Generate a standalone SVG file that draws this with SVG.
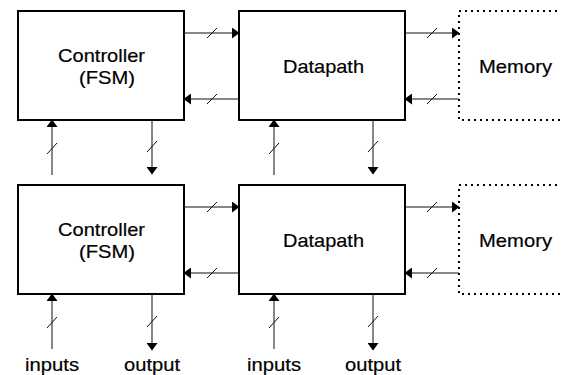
<svg xmlns="http://www.w3.org/2000/svg" width="561" height="375" viewBox="0 0 561 375">
  <style>
    .box { fill: #fff; stroke: #000; stroke-width: 2; }
    .mem { fill: #fff; stroke: #000; stroke-width: 2; stroke-dasharray: 2 4; }
    .wire { fill: none; stroke: #111; stroke-width: 1; }
    .tick { fill: none; stroke: #111; stroke-width: 1; }
    .lbl { font-family: "Liberation Sans", Arial, sans-serif; font-size: 19px; fill: #000; stroke: #000; stroke-width: 0.2; }
  </style>
  <defs>
    <marker id="head" markerUnits="userSpaceOnUse" markerWidth="9" markerHeight="11" refX="7" refY="5.5" orient="auto">
      <path d="M0,0 L7.5,5.5 L0,11 z" fill="#000"/>
    </marker>
  </defs>
  <rect width="561" height="375" fill="#fff"/>

  <!-- top row -->
  <g id="controller-1">
    <rect class="box" x="18" y="11" width="166" height="109"/>
    <text class="lbl" x="58" y="62" textLength="87" lengthAdjust="spacingAndGlyphs">Controller</text>
    <text class="lbl" x="79" y="84" textLength="56" lengthAdjust="spacingAndGlyphs">(FSM)</text>
  </g>
  <g id="datapath-1">
    <rect class="box" x="239" y="11" width="166" height="109"/>
    <text class="lbl" x="283" y="73" textLength="81" lengthAdjust="spacingAndGlyphs">Datapath</text>
  </g>
  <g id="memory-1">
    <rect class="mem" x="459" y="11" width="200" height="109"/>
    <text class="lbl" x="479" y="73" textLength="73" lengthAdjust="spacingAndGlyphs">Memory</text>
  </g>

  <!-- bottom row -->
  <g id="controller-2">
    <rect class="box" x="18" y="185" width="166" height="109"/>
    <text class="lbl" x="58" y="236" textLength="87" lengthAdjust="spacingAndGlyphs">Controller</text>
    <text class="lbl" x="79" y="258" textLength="56" lengthAdjust="spacingAndGlyphs">(FSM)</text>
  </g>
  <g id="datapath-2">
    <rect class="box" x="239" y="185" width="166" height="109"/>
    <text class="lbl" x="283" y="247" textLength="81" lengthAdjust="spacingAndGlyphs">Datapath</text>
  </g>
  <g id="memory-2">
    <rect class="mem" x="459" y="185" width="200" height="109"/>
    <text class="lbl" x="479" y="247" textLength="73" lengthAdjust="spacingAndGlyphs">Memory</text>
  </g>

  <!-- buses: each line carries an arrowhead, the short slash marks a multi-bit bus -->
  <g id="connectors">
    <!-- top row horizontal -->
    <line class="wire" x1="184" y1="33" x2="239" y2="33" marker-end="url(#head)"/>
    <line class="wire" x1="239" y1="99" x2="184" y2="99" marker-end="url(#head)"/>
    <line class="wire" x1="405" y1="33" x2="459" y2="33" marker-end="url(#head)"/>
    <line class="wire" x1="459" y1="99" x2="405" y2="99" marker-end="url(#head)"/>
    <line class="tick" x1="207" y1="38" x2="217" y2="28"/>
    <line class="tick" x1="207" y1="104" x2="217" y2="94"/>
    <line class="tick" x1="427" y1="38" x2="437" y2="28"/>
    <line class="tick" x1="427" y1="104" x2="437" y2="94"/>

    <!-- top row vertical -->
    <line class="wire" x1="52" y1="175" x2="52" y2="120" marker-end="url(#head)"/>
    <line class="wire" x1="152" y1="120" x2="152" y2="174" marker-end="url(#head)"/>
    <line class="wire" x1="274" y1="175" x2="274" y2="120" marker-end="url(#head)"/>
    <line class="wire" x1="373" y1="120" x2="373" y2="174" marker-end="url(#head)"/>
    <line class="tick" x1="47" y1="154" x2="57" y2="143"/>
    <line class="tick" x1="147" y1="152" x2="157" y2="141"/>
    <line class="tick" x1="269" y1="154" x2="279" y2="143"/>
    <line class="tick" x1="368" y1="152" x2="378" y2="141"/>

    <!-- bottom row horizontal -->
    <line class="wire" x1="184" y1="207" x2="239" y2="207" marker-end="url(#head)"/>
    <line class="wire" x1="239" y1="273" x2="184" y2="273" marker-end="url(#head)"/>
    <line class="wire" x1="405" y1="207" x2="459" y2="207" marker-end="url(#head)"/>
    <line class="wire" x1="459" y1="273" x2="405" y2="273" marker-end="url(#head)"/>
    <line class="tick" x1="207" y1="212" x2="217" y2="202"/>
    <line class="tick" x1="207" y1="278" x2="217" y2="268"/>
    <line class="tick" x1="427" y1="212" x2="437" y2="202"/>
    <line class="tick" x1="427" y1="278" x2="437" y2="268"/>

    <!-- bottom row vertical -->
    <line class="wire" x1="52" y1="349" x2="52" y2="294" marker-end="url(#head)"/>
    <line class="wire" x1="152" y1="294" x2="152" y2="350" marker-end="url(#head)"/>
    <line class="wire" x1="274" y1="349" x2="274" y2="294" marker-end="url(#head)"/>
    <line class="wire" x1="373" y1="294" x2="373" y2="350" marker-end="url(#head)"/>
    <line class="tick" x1="47" y1="328" x2="57" y2="317"/>
    <line class="tick" x1="147" y1="327" x2="157" y2="316"/>
    <line class="tick" x1="269" y1="328" x2="279" y2="317"/>
    <line class="tick" x1="368" y1="327" x2="378" y2="316"/>
  </g>

  <g id="io-labels">
    <text class="lbl" x="25" y="371" textLength="54" lengthAdjust="spacingAndGlyphs">inputs</text>
    <text class="lbl" x="124" y="371" textLength="56" lengthAdjust="spacingAndGlyphs">output</text>
    <text class="lbl" x="247" y="371" textLength="54" lengthAdjust="spacingAndGlyphs">inputs</text>
    <text class="lbl" x="345" y="371" textLength="56" lengthAdjust="spacingAndGlyphs">output</text>
  </g>
</svg>
